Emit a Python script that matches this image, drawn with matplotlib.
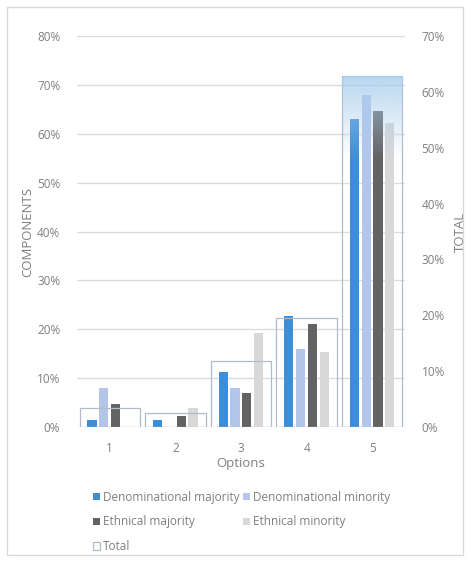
import matplotlib

matplotlib.use("Agg")
import matplotlib.pyplot as plt
import numpy as np
from matplotlib.patches import Rectangle
from matplotlib.ticker import PercentFormatter

plt.rcParams["font.family"] = ["Open Sans", "DejaVu Sans"]

options = ["1", "2", "3", "4", "5"]
denom_major = [1.4, 1.4, 11.2, 22.7, 63.0]
denom_minor = [8.0, 0.0, 8.0, 16.0, 68.0]
ethn_major = [4.7, 2.2, 7.0, 21.1, 64.6]
ethn_minor = [0.0, 3.9, 19.2, 15.3, 62.2]
total = [3.4, 2.5, 11.8, 19.5, 62.8]

series = [
    ("Denominational majority", denom_major, "#3d8ed8"),
    ("Denominational minority", denom_minor, "#b3c6ea"),
    ("Ethnical majority", ethn_major, "#636363"),
    ("Ethnical minority", ethn_minor, "#d8d8d8"),
]

GRIS = "#7f7f7f"

fig = plt.figure(figsize=(4.72, 5.62), dpi=100)
fig.patch.set_facecolor("white")
fig.patches.append(Rectangle((7 / 472, 7 / 562), 456 / 472, 548 / 562,
                             transform=fig.transFigure, fill=False,
                             edgecolor="#d9d9d9", linewidth=1))

ax = fig.add_axes([0.163, 0.240, 0.695, 0.696])
ax2 = ax.twinx()

x = np.arange(len(options))
largeur = 0.14
pas = 0.18
for k, (nom, vals, col) in enumerate(series):
    ax.bar(x + (k - 1.5) * pas, vals, largeur, color=col, label=nom, zorder=3)

barres = ax2.bar(x, total, 0.92, facecolor="none", edgecolor="#b0bac8",
                 linewidth=0.9, label="Total", zorder=3)

# dégradé bleu en haut de la dernière barre totale
b = barres[-1]
grad = np.zeros((200, 1, 4))
grad[..., 0], grad[..., 1], grad[..., 2] = 0.66, 0.80, 0.93
grad[:, 0, 3] = np.clip(np.linspace(0.8, -2.6, 200), 0, 1)
ax2.imshow(grad, extent=(b.get_x(), b.get_x() + b.get_width(), 0, b.get_height()),
           aspect="auto", zorder=4, interpolation="bilinear")

ax.set_xlim(-0.5, 4.5)
ax.set_ylim(0, 80)
ax2.set_ylim(0, 70)
ax.set_yticks(np.arange(0, 81, 10))
ax2.set_yticks(np.arange(0, 71, 10))
ax.yaxis.set_major_formatter(PercentFormatter(decimals=0))
ax2.yaxis.set_major_formatter(PercentFormatter(decimals=0))
ax.set_xticks(x, options)
ax.grid(axis="y", color="#dcdcdc", linewidth=1, zorder=0)
ax.set_axisbelow(True)

for a in (ax, ax2):
    for s in a.spines.values():
        s.set_visible(False)
    a.tick_params(length=0, labelsize=8.5, labelcolor=GRIS)
ax.tick_params(axis="y", pad=12)
ax2.tick_params(axis="y", pad=12)
ax.tick_params(axis="x", pad=11)

ax.set_xlabel("Options", color=GRIS, fontsize=9.5, labelpad=1)
ax.set_ylabel("COMPONENTS", color=GRIS, fontsize=9.5, labelpad=2)
ax2.set_ylabel("TOTAL", color=GRIS, fontsize=9.5, labelpad=6)

h1, l1 = ax.get_legend_handles_labels()
h2, l2 = ax2.get_legend_handles_labels()
handles = [h1[0], h1[2], h2[0], h1[1], h1[3]]
labels = [l1[0], l1[2], l2[0], l1[1], l1[3]]
fig.legend(handles, labels, ncol=2, loc="upper left",
           bbox_to_anchor=(82 / 472, 1 - 480 / 562), frameon=False,
           fontsize=8.5, labelcolor=GRIS, handlelength=0.6, handleheight=0.6,
           handletextpad=0.25, columnspacing=0.35, labelspacing=1.0)

fig.savefig("out.png", dpi=100, facecolor="white")
